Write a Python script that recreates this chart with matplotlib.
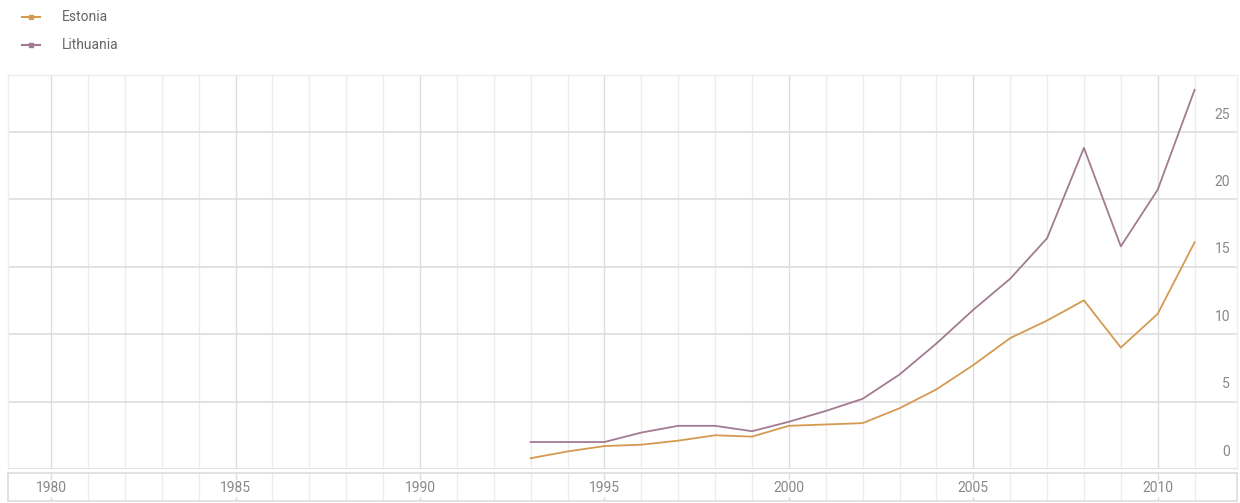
import matplotlib.pyplot as plt

plt.rcParams['font.family'] = ['Roboto', 'DejaVu Sans']

# ------------------------------------------------
# Data
# ------------------------------------------------
years = list(range(1993, 2012))
estonia = [0.8, 1.3, 1.7, 1.8, 2.1, 2.5, 2.4, 3.2, 3.3, 3.4, 4.5, 5.9, 7.7,
           9.7, 11.0, 12.5, 9.0, 11.5, 16.8]
lithuania = [2.0, 2.0, 2.0, 2.7, 3.2, 3.2, 2.8, 3.5, 4.3, 5.2, 7.0, 9.3, 11.8,
             14.1, 17.1, 23.8, 16.5, 20.7, 28.1]
series_names = ["Estonia", "Lithuania"]
series_colors = ["#d49a50", "#a27b93"]
y_ticks = [0, 5, 10, 15, 20, 25]
x_labels = [1980, 1985, 1990, 1995, 2000, 2005, 2010]

W, H = 1240, 503
X0, X1 = 1978.83, 2012.15
label_x = X0 + (1230 - 8) / (1237 - 8) * (X1 - X0)

fig = plt.figure(figsize=(W / 100, H / 100), dpi=100)

# ------------------------------------------------
# Main plot area
# ------------------------------------------------
ax = fig.add_axes([8 / W, (H - 469) / H, (1237 - 8) / W, (469 - 75) / H])
ax.set_xlim(X0, X1)
ax.set_ylim(0, 29.2)

for yr in range(1980, 2012):
    c = "#dcdcdc" if yr % 5 == 0 else "#ececec"
    ax.axvline(yr, color=c, lw=1, zorder=0)
for t in y_ticks:
    ax.axhline(t, color="#dddddd", lw=1.2, zorder=0)
    ax.text(label_x, t + 0.75, str(t), ha="right", va="bottom",
            fontsize=10, color="#888888")

ax.plot(years, estonia, color=series_colors[0], lw=1.3, zorder=3)
ax.plot(years, lithuania, color=series_colors[1], lw=1.3, zorder=3)

ax.set_xticks([])
ax.set_yticks([])
for s in ax.spines.values():
    s.set_color("#eeeeee")
    s.set_linewidth(1)
ax.spines["bottom"].set_visible(False)

# ------------------------------------------------
# Bottom band with year labels
# ------------------------------------------------
bx = fig.add_axes([8 / W, (H - 501) / H, (1237 - 8) / W, (501 - 473) / H])
bx.set_xlim(X0, X1)
bx.set_ylim(0, 1)
for yr in range(1980, 2012):
    c = "#dcdcdc" if yr % 5 == 0 else "#ececec"
    bx.axvline(yr, color=c, lw=1, zorder=0)
for yr in x_labels:
    bx.text(yr, 0.45, str(yr), ha="center", va="center", fontsize=10,
            color="#888888", zorder=2,
            bbox=dict(facecolor="white", edgecolor="none", pad=1))
bx.set_xticks([])
bx.set_yticks([])
for s in bx.spines.values():
    s.set_color("#dddddd")
    s.set_linewidth(1.2)

# ------------------------------------------------
# Legend
# ------------------------------------------------
for i, name in enumerate(series_names):
    yy = 1 - (17 + 28 * i) / H
    fig.add_artist(plt.Line2D([22 / W, 31 / W, 40 / W], [yy, yy, yy],
                              color=series_colors[i], lw=1.5, marker="s",
                              markersize=3.5, markevery=[1],
                              transform=fig.transFigure))
    fig.text(62 / W, yy, name, ha="left", va="center", fontsize=10,
             color="#666666")

fig.savefig("out.png", dpi=100)
